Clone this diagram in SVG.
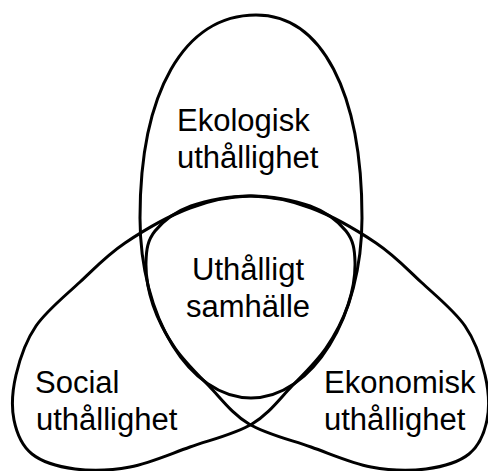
<svg xmlns="http://www.w3.org/2000/svg" width="488" height="471" viewBox="0 0 488 471">
  <style>
    .egg { fill: none; stroke: #000; stroke-width: 3; stroke-linejoin: round; }
    .lbl { font-family: "Liberation Sans", Arial, sans-serif; font-size: 31px; fill: #000; }
    .mid { text-anchor: middle; }
  </style>
  <defs>
    <!-- lower-left egg outline; mirrored for the lower-right one -->
    <path id="side-egg" d="M250,196 C270,195.67 294,200.17 310,206 C326,211.83 338.5,221.67 346,231 C353.5,240.33 354.67,249.67 355,262 C355.33,274.33 352.83,290.67 348,305 C343.17,319.33 335.33,334.5 326,348 C316.67,361.5 304.33,373.33 292,386 C279.67,398.67 269,413.83 252,424 C235,434.17 210.33,439.83 190,447 C169.67,454.17 149.17,463.33 130,467 C110.83,470.67 91.33,471.17 75,469 C58.67,466.83 42.17,462.17 32,454 C21.83,445.83 16.67,433.17 14,420 C11.33,406.83 12.33,390.67 16,375 C19.67,359.33 25.33,341.5 36,326 C46.67,310.5 65.17,295.830 80,282 C94.83,268.17 106.67,255.33 125,243 C143.33,230.67 169.17,215.83 190,208 C210.83,200.17 230,196.33 250,196 Z"/>
  </defs>

  <g id="ekologisk">
    <path class="egg" d="M256,15 C321.7,15 362,92.1 362,218 C362,317.4 312.3,398 251,398 C189.7,398 140,317.4 140,218 C140,92.1 184.1,15 256,15 Z"/>
    <text class="lbl" x="177" y="131">Ekologisk</text>
    <text class="lbl" x="177" y="168">uthållighet</text>
  </g>

  <g id="social">
    <use href="#side-egg" class="egg"/>
    <text class="lbl" x="35" y="393">Social</text>
    <text class="lbl" x="36" y="430">uthållighet</text>
  </g>

  <g id="ekonomisk">
    <use href="#side-egg" class="egg" transform="translate(501,0) scale(-1,1)"/>
    <text class="lbl" x="324" y="393">Ekonomisk</text>
    <text class="lbl" x="324" y="430">uthållighet</text>
  </g>

  <g id="samhalle">
    <text class="lbl mid" x="248" y="280">Uthålligt</text>
    <text class="lbl mid" x="248" y="317">samhälle</text>
  </g>

  <g id="connectors"/>
</svg>
